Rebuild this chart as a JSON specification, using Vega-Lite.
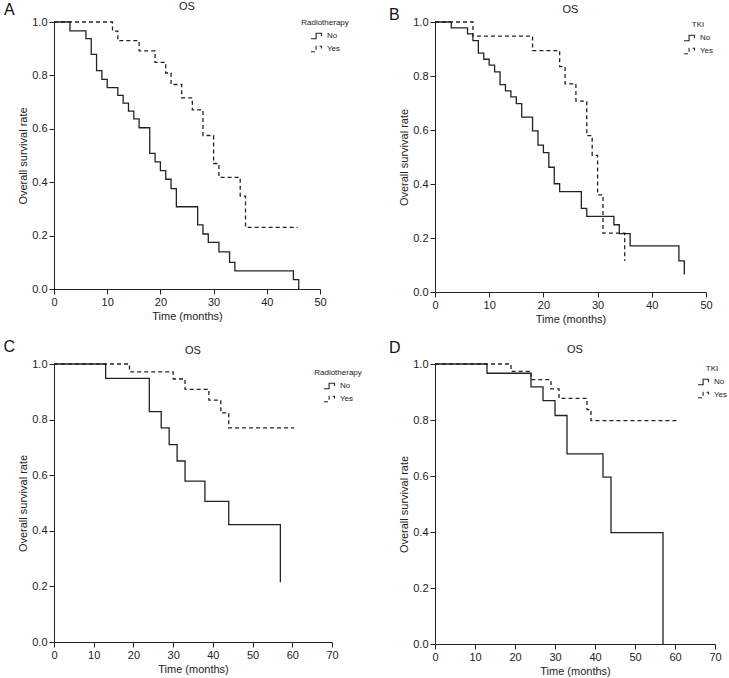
{
  "$schema": "https://vega.github.io/schema/vega-lite/v6.json",
  "padding": {"left": 3, "top": 1, "right": 5, "bottom": 2},
  "datasets": {
    "km": [
      {"panel":"A","group":"No","time":0,"surv":1},
      {"panel":"A","group":"No","time":3,"surv":0.967},
      {"panel":"A","group":"No","time":6,"surv":0.938},
      {"panel":"A","group":"No","time":7,"surv":0.879},
      {"panel":"A","group":"No","time":8,"surv":0.818},
      {"panel":"A","group":"No","time":9,"surv":0.785},
      {"panel":"A","group":"No","time":10,"surv":0.754},
      {"panel":"A","group":"No","time":12,"surv":0.725},
      {"panel":"A","group":"No","time":13,"surv":0.696},
      {"panel":"A","group":"No","time":14,"surv":0.666},
      {"panel":"A","group":"No","time":15,"surv":0.637},
      {"panel":"A","group":"No","time":16,"surv":0.604},
      {"panel":"A","group":"No","time":18,"surv":0.508},
      {"panel":"A","group":"No","time":19,"surv":0.476},
      {"panel":"A","group":"No","time":20,"surv":0.443},
      {"panel":"A","group":"No","time":21,"surv":0.411},
      {"panel":"A","group":"No","time":22,"surv":0.376},
      {"panel":"A","group":"No","time":23,"surv":0.308},
      {"panel":"A","group":"No","time":27,"surv":0.240},
      {"panel":"A","group":"No","time":28,"surv":0.206},
      {"panel":"A","group":"No","time":29,"surv":0.175},
      {"panel":"A","group":"No","time":31,"surv":0.139},
      {"panel":"A","group":"No","time":33,"surv":0.100},
      {"panel":"A","group":"No","time":34,"surv":0.068},
      {"panel":"A","group":"No","time":45,"surv":0.035},
      {"panel":"A","group":"No","time":46,"surv":0},
      {"panel":"A","group":"Yes","time":0,"surv":1},
      {"panel":"A","group":"Yes","time":11,"surv":0.966},
      {"panel":"A","group":"Yes","time":12,"surv":0.930},
      {"panel":"A","group":"Yes","time":16,"surv":0.892},
      {"panel":"A","group":"Yes","time":19,"surv":0.849},
      {"panel":"A","group":"Yes","time":21,"surv":0.809},
      {"panel":"A","group":"Yes","time":22,"surv":0.766},
      {"panel":"A","group":"Yes","time":24,"surv":0.716},
      {"panel":"A","group":"Yes","time":26,"surv":0.671},
      {"panel":"A","group":"Yes","time":28,"surv":0.575},
      {"panel":"A","group":"Yes","time":30,"surv":0.470},
      {"panel":"A","group":"Yes","time":31,"surv":0.418},
      {"panel":"A","group":"Yes","time":35,"surv":0.348},
      {"panel":"A","group":"Yes","time":36,"surv":0.231},
      {"panel":"A","group":"Yes","time":45.8,"surv":0.231},
      {"panel":"B","group":"No","time":0,"surv":1},
      {"panel":"B","group":"No","time":3,"surv":0.978},
      {"panel":"B","group":"No","time":6,"surv":0.956},
      {"panel":"B","group":"No","time":7,"surv":0.931},
      {"panel":"B","group":"No","time":8,"surv":0.885},
      {"panel":"B","group":"No","time":9,"surv":0.862},
      {"panel":"B","group":"No","time":10,"surv":0.840},
      {"panel":"B","group":"No","time":11,"surv":0.815},
      {"panel":"B","group":"No","time":12,"surv":0.768},
      {"panel":"B","group":"No","time":13,"surv":0.745},
      {"panel":"B","group":"No","time":14,"surv":0.723},
      {"panel":"B","group":"No","time":15,"surv":0.698},
      {"panel":"B","group":"No","time":16,"surv":0.648},
      {"panel":"B","group":"No","time":18,"surv":0.597},
      {"panel":"B","group":"No","time":19,"surv":0.544},
      {"panel":"B","group":"No","time":20,"surv":0.516},
      {"panel":"B","group":"No","time":21,"surv":0.462},
      {"panel":"B","group":"No","time":22,"surv":0.401},
      {"panel":"B","group":"No","time":23,"surv":0.372},
      {"panel":"B","group":"No","time":27,"surv":0.310},
      {"panel":"B","group":"No","time":28,"surv":0.280},
      {"panel":"B","group":"No","time":33,"surv":0.249},
      {"panel":"B","group":"No","time":34,"surv":0.216},
      {"panel":"B","group":"No","time":36,"surv":0.171},
      {"panel":"B","group":"No","time":45,"surv":0.115},
      {"panel":"B","group":"No","time":46,"surv":0.065},
      {"panel":"B","group":"Yes","time":0,"surv":1},
      {"panel":"B","group":"Yes","time":7,"surv":0.948},
      {"panel":"B","group":"Yes","time":18,"surv":0.894},
      {"panel":"B","group":"Yes","time":23,"surv":0.835},
      {"panel":"B","group":"Yes","time":24,"surv":0.771},
      {"panel":"B","group":"Yes","time":26,"surv":0.707},
      {"panel":"B","group":"Yes","time":28,"surv":0.579},
      {"panel":"B","group":"Yes","time":29,"surv":0.506},
      {"panel":"B","group":"Yes","time":30,"surv":0.360},
      {"panel":"B","group":"Yes","time":31,"surv":0.218},
      {"panel":"B","group":"Yes","time":35,"surv":0.115},
      {"panel":"C","group":"No","time":0,"surv":1},
      {"panel":"C","group":"No","time":13,"surv":0.948},
      {"panel":"C","group":"No","time":24,"surv":0.829},
      {"panel":"C","group":"No","time":27,"surv":0.770},
      {"panel":"C","group":"No","time":29,"surv":0.710},
      {"panel":"C","group":"No","time":31,"surv":0.651},
      {"panel":"C","group":"No","time":33,"surv":0.579},
      {"panel":"C","group":"No","time":38,"surv":0.506},
      {"panel":"C","group":"No","time":44,"surv":0.422},
      {"panel":"C","group":"No","time":57,"surv":0.215},
      {"panel":"C","group":"Yes","time":0,"surv":1},
      {"panel":"C","group":"Yes","time":19,"surv":0.972},
      {"panel":"C","group":"Yes","time":30,"surv":0.946},
      {"panel":"C","group":"Yes","time":33,"surv":0.909},
      {"panel":"C","group":"Yes","time":39,"surv":0.870},
      {"panel":"C","group":"Yes","time":42,"surv":0.824},
      {"panel":"C","group":"Yes","time":44,"surv":0.770},
      {"panel":"C","group":"Yes","time":60.5,"surv":0.770},
      {"panel":"D","group":"No","time":0,"surv":1},
      {"panel":"D","group":"No","time":13,"surv":0.967},
      {"panel":"D","group":"No","time":24,"surv":0.918},
      {"panel":"D","group":"No","time":27,"surv":0.869},
      {"panel":"D","group":"No","time":30,"surv":0.816},
      {"panel":"D","group":"No","time":33,"surv":0.679},
      {"panel":"D","group":"No","time":42,"surv":0.596},
      {"panel":"D","group":"No","time":44,"surv":0.398},
      {"panel":"D","group":"No","time":57,"surv":0},
      {"panel":"D","group":"Yes","time":0,"surv":1},
      {"panel":"D","group":"Yes","time":19,"surv":0.974},
      {"panel":"D","group":"Yes","time":24,"surv":0.944},
      {"panel":"D","group":"Yes","time":29,"surv":0.911},
      {"panel":"D","group":"Yes","time":31,"surv":0.877},
      {"panel":"D","group":"Yes","time":38,"surv":0.837},
      {"panel":"D","group":"Yes","time":39,"surv":0.798},
      {"panel":"D","group":"Yes","time":60.5,"surv":0.798}
    ]
  },
  "columns": 2,
  "bounds": "flush",
  "spacing": {"row": 72, "column": 103},
  "resolve": {"scale": {"x": "independent", "y": "independent", "strokeDash": "independent"}, "legend": {"strokeDash": "independent"}},
  "concat": [
    {
      "width": 266, "height": 267,
      "title": {"text": "OS", "offset": -10.5},
      "layer": [
        {
          "data": {"name": "km"},
          "transform": [{"filter": "datum.panel === 'A'"}],
          "mark": {"type": "line", "interpolate": "step-after", "color": "#222", "strokeWidth": 1.3},
          "encoding": {
            "x": {"field": "time", "type": "quantitative", "scale": {"domain": [0, 50]}, "axis": {"values": [0, 10, 20, 30, 40, 50], "labelOverlap": false, "title": "Time (months)"}},
            "y": {"field": "surv", "type": "quantitative", "scale": {"domain": [0, 1]}, "axis": {"values": [0, 0.2, 0.4, 0.6, 0.8, 1], "labelOverlap": false, "format": ".1f", "title": "Overall survival rate"}},
            "strokeDash": {"field": "group", "type": "nominal", "scale": {"domain": ["No", "Yes"], "range": [[1, 0], [4, 3]]},
              "legend": {"title": "Radiotherapy", "orient": "none", "legendX": 247, "legendY": -3}}
          }
        },
        {
          "data": {"values": [{"label": "A"}]},
          "mark": {"type": "text", "fontSize": 16, "align": "left", "baseline": "middle", "color": "#111"},
          "encoding": {
            "x": {"datum": -9.4, "type": "quantitative", "axis": {"values": [0, 10, 20, 30, 40, 50], "labelOverlap": false, "title": "Time (months)"}},
            "y": {"datum": 1.045, "type": "quantitative", "axis": {"values": [0, 0.2, 0.4, 0.6, 0.8, 1], "labelOverlap": false, "format": ".1f", "title": "Overall survival rate"}},
            "text": {"field": "label"}}
        }
      ]
    },
    {
      "width": 271, "height": 270,
      "title": {"text": "OS", "offset": -7.7},
      "layer": [
        {
          "data": {"name": "km"},
          "transform": [{"filter": "datum.panel === 'B'"}],
          "mark": {"type": "line", "interpolate": "step-after", "color": "#222", "strokeWidth": 1.3},
          "encoding": {
            "x": {"field": "time", "type": "quantitative", "scale": {"domain": [0, 50]}, "axis": {"values": [0, 10, 20, 30, 40, 50], "labelOverlap": false, "title": "Time (months)"}},
            "y": {"field": "surv", "type": "quantitative", "scale": {"domain": [0, 1]}, "axis": {"values": [0, 0.2, 0.4, 0.6, 0.8, 1], "labelOverlap": false, "format": ".1f", "title": "Overall survival rate"}},
            "strokeDash": {"field": "group", "type": "nominal", "scale": {"domain": ["No", "Yes"], "range": [[1, 0], [4, 3]]},
              "legend": {"title": "TKI", "orient": "none", "legendX": 248, "legendY": -1}}
          }
        },
        {
          "data": {"values": [{"label": "B"}]},
          "mark": {"type": "text", "fontSize": 16, "align": "left", "baseline": "middle", "color": "#111"},
          "encoding": {
            "x": {"datum": -8.5, "type": "quantitative", "axis": {"values": [0, 10, 20, 30, 40, 50], "labelOverlap": false, "title": "Time (months)"}},
            "y": {"datum": 1.025, "type": "quantitative", "axis": {"values": [0, 0.2, 0.4, 0.6, 0.8, 1], "labelOverlap": false, "format": ".1f", "title": "Overall survival rate"}},
            "text": {"field": "label"}}
        }
      ]
    },
    {
      "width": 278, "height": 278,
      "title": {"text": "OS", "offset": -16.5},
      "layer": [
        {
          "data": {"name": "km"},
          "transform": [{"filter": "datum.panel === 'C'"}],
          "mark": {"type": "line", "interpolate": "step-after", "color": "#222", "strokeWidth": 1.3},
          "encoding": {
            "x": {"field": "time", "type": "quantitative", "scale": {"domain": [0, 70]}, "axis": {"values": [0, 10, 20, 30, 40, 50, 60, 70], "labelOverlap": false, "title": "Time (months)"}},
            "y": {"field": "surv", "type": "quantitative", "scale": {"domain": [0, 1]}, "axis": {"values": [0, 0.2, 0.4, 0.6, 0.8, 1], "labelOverlap": false, "format": ".1f", "title": "Overall survival rate"}},
            "strokeDash": {"field": "group", "type": "nominal", "scale": {"domain": ["No", "Yes"], "range": [[1, 0], [4, 3]]},
              "legend": {"title": "Radiotherapy", "orient": "none", "legendX": 260, "legendY": 5}}
          }
        },
        {
          "data": {"values": [{"label": "C"}]},
          "mark": {"type": "text", "fontSize": 16, "align": "left", "baseline": "middle", "color": "#111"},
          "encoding": {
            "x": {"datum": -12.7, "type": "quantitative", "axis": {"values": [0, 10, 20, 30, 40, 50, 60, 70], "labelOverlap": false, "title": "Time (months)"}},
            "y": {"datum": 1.061, "type": "quantitative", "axis": {"values": [0, 0.2, 0.4, 0.6, 0.8, 1], "labelOverlap": false, "format": ".1f", "title": "Overall survival rate"}},
            "text": {"field": "label"}}
        }
      ]
    },
    {
      "width": 280, "height": 280,
      "title": {"text": "OS", "offset": -14.8},
      "layer": [
        {
          "data": {"name": "km"},
          "transform": [{"filter": "datum.panel === 'D'"}],
          "mark": {"type": "line", "interpolate": "step-after", "color": "#222", "strokeWidth": 1.3},
          "encoding": {
            "x": {"field": "time", "type": "quantitative", "scale": {"domain": [0, 70]}, "axis": {"values": [0, 10, 20, 30, 40, 50, 60, 70], "labelOverlap": false, "title": "Time (months)"}},
            "y": {"field": "surv", "type": "quantitative", "scale": {"domain": [0, 1]}, "axis": {"values": [0, 0.2, 0.4, 0.6, 0.8, 1], "labelOverlap": false, "format": ".1f", "title": "Overall survival rate"}},
            "strokeDash": {"field": "group", "type": "nominal", "scale": {"domain": ["No", "Yes"], "range": [[1, 0], [4, 3]]},
              "legend": {"title": "TKI", "orient": "none", "legendX": 262, "legendY": 1}}
          }
        },
        {
          "data": {"values": [{"label": "D"}]},
          "mark": {"type": "text", "fontSize": 16, "align": "left", "baseline": "middle", "color": "#111"},
          "encoding": {
            "x": {"datum": -11.5, "type": "quantitative", "axis": {"values": [0, 10, 20, 30, 40, 50, 60, 70], "labelOverlap": false, "title": "Time (months)"}},
            "y": {"datum": 1.057, "type": "quantitative", "axis": {"values": [0, 0.2, 0.4, 0.6, 0.8, 1], "labelOverlap": false, "format": ".1f", "title": "Overall survival rate"}},
            "text": {"field": "label"}}
        }
      ]
    }
  ],
  "config": {
    "font": "Liberation Sans",
    "view": {"stroke": null},
    "title": {"fontSize": 11, "fontWeight": "normal", "color": "#222", "anchor": "middle"},
    "axis": {
      "grid": false,
      "labelFontSize": 11,
      "titleFontSize": 11,
      "titleFontWeight": "normal",
      "labelColor": "#222",
      "titleColor": "#222",
      "domainColor": "#222",
      "tickColor": "#222",
      "tickSize": 5,
      "labelPadding": 2,
      "labelFlush": false,
      "labelOverlap": false
    },
    "axisY": {"titlePadding": 3},
    "axisX": {"titlePadding": 3},
    "legend": {
      "titleFontSize": 8,
      "titleFontWeight": "normal",
      "titleColor": "#222",
      "titleAnchor": "middle",
      "labelFontSize": 8,
      "labelColor": "#222",
      "symbolType": "M-1,0.45H-0.15V-0.45H0.75V0",
      "symbolSize": 144,
      "symbolStrokeColor": "#222",
      "symbolStrokeWidth": 1.1,
      "symbolFillColor": "transparent",
      "rowPadding": 1,
      "titlePadding": 2,
      "labelOffset": 3,
      "padding": 0
    }
  }
}
